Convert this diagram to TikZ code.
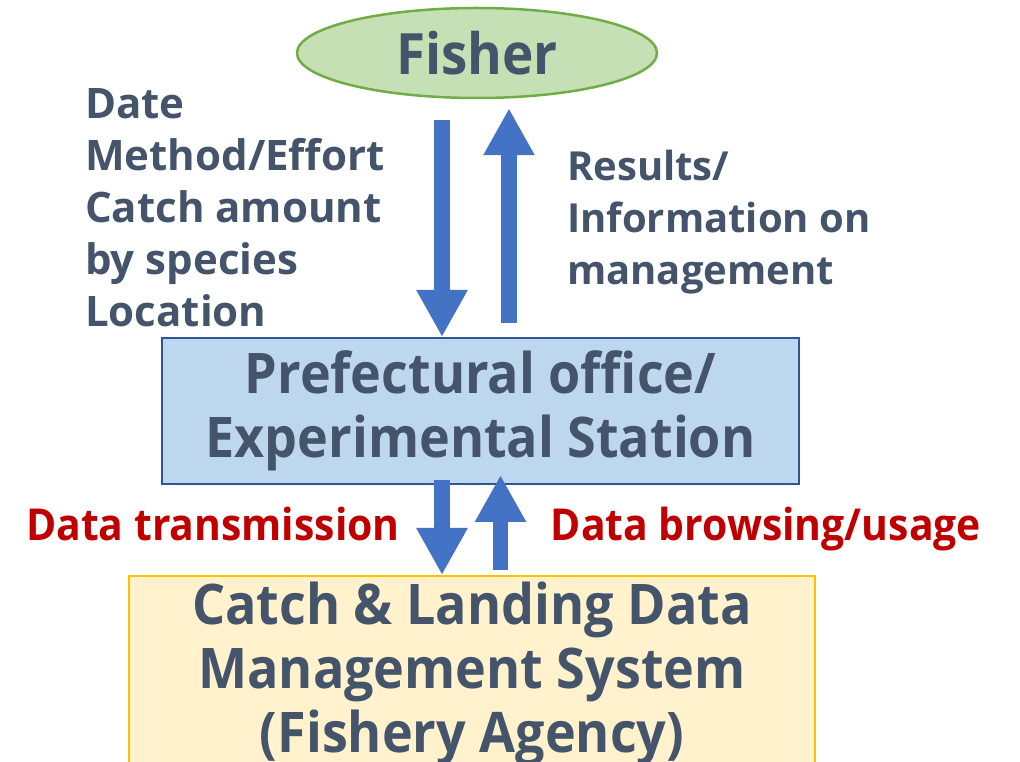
\documentclass[tikz,border=0pt]{standalone}
\usepackage{fontspec}
\setmainfont{Open Sans}
\newfontfamily\narrowfont[FakeStretch=0.93]{Open Sans}
\usetikzlibrary{arrows.meta,positioning,shapes.geometric}
\definecolor{slate}{HTML}{44546A}
\definecolor{darkred}{HTML}{C00000}
\definecolor{arrowblue}{HTML}{4472C4}
\definecolor{leafgreen}{HTML}{C5E0B4}
\definecolor{leafedge}{HTML}{70AD47}
\definecolor{skyfill}{HTML}{BDD7EE}
\definecolor{skyedge}{HTML}{2F5597}
\definecolor{creamfill}{HTML}{FFF2CC}
\definecolor{creamedge}{HTML}{FFC000}
\tikzset{
  bigarrow/.style={draw=arrowblue, line width=16pt, -{Triangle[length=47pt,width=48pt]}},
  labeltext/.style={inner sep=0pt, align=left, text=slate, font=\fontsize{42}{52}\selectfont\bfseries},
  redtext/.style={inner sep=0pt, text=darkred, font=\fontsize{44}{52}\selectfont\narrowfont\bfseries},
  boxtext/.style={inner sep=0pt, align=center, text=slate, font=\fontsize{56}{64}\selectfont\narrowfont\bfseries}
}
\begin{document}
\begin{tikzpicture}[x=1pt,y=1pt]
  \clip (0,0) rectangle (1020,761);
  \fill[white] (0,0) rectangle (1020,761);
  % three stages
  \node[ellipse, draw=leafedge, fill=leafgreen, line width=2.5pt, minimum width=360pt, minimum height=90pt,
        inner sep=0pt, text=slate, font=\fontsize{57}{64}\selectfont\narrowfont\bfseries] (fisher) at (477,708) {Fisher};
  \node[boxtext, draw=skyedge, fill=skyfill, line width=2pt, minimum width=637pt, minimum height=146pt] (office) at (480.5,350)
        {Prefectural office/\\Experimental Station};
  \node[boxtext, draw=creamedge, fill=creamfill, line width=2pt, minimum width=686pt, minimum height=196pt] (system) at (472,87)
        {Catch \& Landing Data\\Management System\\(Fishery Agency)};
  % arrows between them
  \coordinate (d1) at (442,641);
  \coordinate (u1) at (509,438);
  \coordinate (d2) at (442,281);
  \coordinate (u2) at (500.5,191);
  \draw[bigarrow] (d1) -- (d1 |- office.north);
  \draw[bigarrow] (u1) -- ([yshift=-9pt]u1 |- fisher.south);
  \draw[bigarrow] (d2) -- (d2 |- system.north);
  \draw[bigarrow, line width=15pt] (u2) -- ([yshift=10pt]u2 |- office.south);
  % labels
  \node[labeltext, anchor=north west] (sent) at (85,673) {Date\\Method/Effort\\Catch amount\\by species\\Location};
  \node[labeltext, anchor=north west, font=\fontsize{40}{52}\selectfont\bfseries] (back) at (567,611) {Results/\\Information on\\management};
  \node[redtext] (send) at (213,237) {Data transmission};
  \node[redtext] (browse) at (766,232) {Data browsing/usage};
\end{tikzpicture}
\end{document}
